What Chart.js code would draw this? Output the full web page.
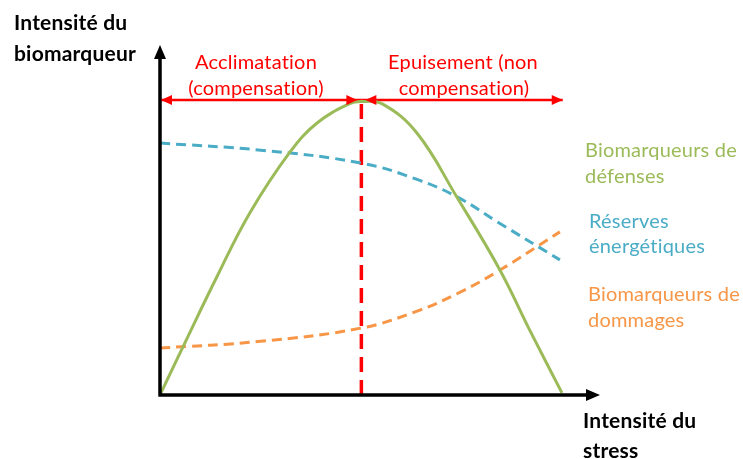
<!DOCTYPE html>
<html lang="fr">
<head>
<meta charset="UTF-8">
<title>Intensité du biomarqueur</title>
<script src="https://cdn.jsdelivr.net/npm/chart.js"></script>
<style>
  * { margin: 0; padding: 0; }
  body { background: #fff; }
  #wrap { width: 743px; height: 459px; position: relative; }
</style>
</head>
<body>
<div id="wrap"><canvas id="graphe"></canvas></div>
<script>
// intensité du stress (axe x, unités arbitraires)
const stressDefenses = [0, 0.57, 1.41, 2.23, 3.23, 3.9, 4.71, 5, 5.53, 6.38, 7.37, 8.44, 9.18, 9.98];
const defenses = [0, 1.63, 4.0, 6.17, 8.24, 9.22, 9.88, 9.95, 9.86, 8.88, 6.71, 4.24, 2.2, 0.07];

const stress = [0, 2.5, 5, 6.4, 7.4, 8.4, 9.93];
const reserves = [8.54, 8.3, 7.86, 7.3, 6.7, 5.85, 4.58];
const dommages = [1.59, 1.82, 2.27, 2.85, 3.45, 4.2, 5.53];

// seuil acclimatation / épuisement
const seuil = 5;
const hautFleches = 10;
const finStress = 10;

const vert = '#9BBB59';
const bleu = '#4BACC6';
const orange = '#F79646';
const rouge = '#FF0000';

const points = (xs, ys) => xs.map((x, i) => ({ x: x, y: ys[i] }));

const police = '"Lato", "Open Sans", sans-serif';

// axes avec flèches, têtes des flèches rouges et textes
const decor = {
    id: 'decor',
    afterDatasetsDraw(chart) {
        const ctx = chart.ctx;
        const sx = chart.scales.x, sy = chart.scales.y;
        const x0 = sx.getPixelForValue(0), y0 = sy.getPixelForValue(0);
        const ca = chart.chartArea;
        const hautAxe = ca.top + 4, finAxe = ca.right - 3;

        ctx.save();
        // axes
        ctx.strokeStyle = '#000';
        ctx.fillStyle = '#000';
        ctx.lineWidth = 3.5;
        ctx.beginPath();
        ctx.moveTo(x0, y0 + 1.5);
        ctx.lineTo(x0, hautAxe + 10);
        ctx.moveTo(x0 - 1.5, y0);
        ctx.lineTo(finAxe - 10, y0);
        ctx.stroke();
        ctx.beginPath();
        ctx.moveTo(x0, hautAxe);
        ctx.lineTo(x0 - 6, hautAxe + 14);
        ctx.lineTo(x0 + 6, hautAxe + 14);
        ctx.closePath();
        ctx.fill();
        ctx.beginPath();
        ctx.moveTo(finAxe, y0);
        ctx.lineTo(finAxe - 14, y0 - 6);
        ctx.lineTo(finAxe - 14, y0 + 6);
        ctx.closePath();
        ctx.fill();

        // têtes de flèches rouges
        const yf = sy.getPixelForValue(hautFleches);
        const tete = (x, dir) => {
            ctx.beginPath();
            ctx.moveTo(x, yf);
            ctx.lineTo(x - dir * 11, yf - 5);
            ctx.lineTo(x - dir * 11, yf + 5);
            ctx.closePath();
            ctx.fill();
        };
        ctx.fillStyle = rouge;
        const xs = sx.getPixelForValue(seuil);
        tete(x0 + 1, -1);
        tete(xs - 4, 1);
        tete(xs + 4, -1);
        tete(sx.getPixelForValue(finStress), 1);

        // textes (petit espacement pour éviter la ligature "ti" de Lato)
        ctx.letterSpacing = '0.2px';
        ctx.textBaseline = 'middle';
        ctx.font = 'bold 21px ' + police;
        ctx.fillStyle = '#000';
        ctx.textAlign = 'left';
        ctx.fillText('Intensité du', 14, 23);
        ctx.fillText('biomarqueur', 14, 54);
        ctx.fillText('Intensité du', 583, 421);
        ctx.fillText('stress', 583, 451);

        ctx.font = '20px ' + police;
        ctx.fillStyle = rouge;
        ctx.textAlign = 'center';
        ctx.fillText('Acclimatation', 256, 63);
        ctx.fillText('(compensation)', 256, 89);
        ctx.fillText('Epuisement (non', 463, 63);
        ctx.fillText('compensation)', 464, 89);

        ctx.textAlign = 'left';
        ctx.fillStyle = vert;
        ctx.fillText('Biomarqueurs de', 585, 151);
        ctx.fillText('défenses', 585, 177);
        ctx.fillStyle = bleu;
        ctx.fillText('Réserves', 589, 222);
        ctx.fillText('énergétiques', 589, 247);
        ctx.fillStyle = orange;
        ctx.fillText('Biomarqueurs de', 588, 295);
        ctx.fillText('dommages', 588, 321);
        ctx.restore();
    }
};

new Chart(document.getElementById('graphe'), {
    type: 'scatter',
    data: {
        datasets: [
            {
                data: points(stressDefenses, defenses),
                showLine: true,
                borderColor: vert,
                borderWidth: 3,
                pointRadius: 0,
                tension: 0.4
            },
            {
                data: points(stress, reserves),
                showLine: true,
                borderColor: bleu,
                borderWidth: 3,
                borderDash: [10, 6],
                pointRadius: 0,
                tension: 0.4
            },
            {
                data: points(stress, dommages),
                showLine: true,
                borderColor: orange,
                borderWidth: 3,
                borderDash: [10, 6],
                pointRadius: 0,
                tension: 0.4
            },
            {
                data: [{ x: seuil, y: 0 }, { x: seuil, y: hautFleches }],
                showLine: true,
                borderColor: rouge,
                borderWidth: 3.5,
                borderDash: [15, 8],
                pointRadius: 0
            },
            {
                data: [{ x: 0, y: hautFleches }, { x: seuil, y: hautFleches }],
                showLine: true,
                borderColor: rouge,
                borderWidth: 2.5,
                pointRadius: 0
            },
            {
                data: [{ x: seuil, y: hautFleches }, { x: finStress, y: hautFleches }],
                showLine: true,
                borderColor: rouge,
                borderWidth: 2.5,
                pointRadius: 0
            }
        ]
    },
    options: {
        responsive: true,
        maintainAspectRatio: false,
        animation: false,
        layout: { padding: { left: 160, top: 41, right: 140, bottom: 64 } },
        plugins: {
            legend: { display: false },
            tooltip: { enabled: false }
        },
        scales: {
            x: { type: 'linear', min: 0, max: 11, display: false },
            y: { type: 'linear', min: 0, max: 12, display: false }
        }
    },
    plugins: [decor]
});
</script>
</body>
</html>
